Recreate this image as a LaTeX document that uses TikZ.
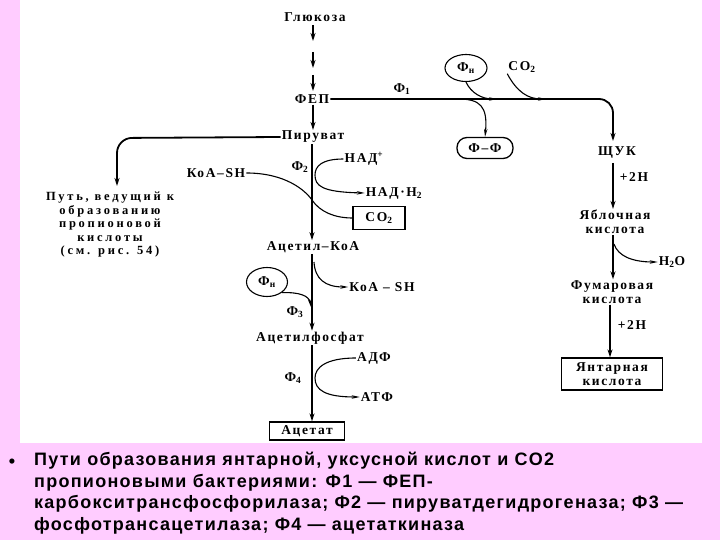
\documentclass[tikz,border=0pt]{standalone}
\usepackage{fontspec}
\setmainfont{Liberation Serif}
\newfontfamily\capfont{Liberation Sans}
\usetikzlibrary{arrows.meta,shapes.geometric}
\definecolor{pinkbg}{RGB}{255,204,255}
\begin{document}
\begin{tikzpicture}[x=1pt,y=-1pt,
  lbl/.style={font=\bfseries\fontsize{13.5}{14}\selectfont\addfontfeature{LetterSpace=12}, inner sep=1pt, align=center},
  smalllbl/.style={font=\bfseries\fontsize{12.5}{13.5}\selectfont\addfontfeature{LetterSpace=22}, inner sep=1pt, align=center},
  mainarr/.style={line width=1.8pt, -{Stealth[length=8pt,width=5pt]}},
  sidearr/.style={line width=1.1pt, -{Stealth[length=8pt,width=3.5pt]}},
  sideline/.style={line width=1.1pt},
  boxed/.style={draw, line width=1.3pt, minimum width=#1},
  oval/.style={draw, ellipse, line width=1.1pt, inner sep=1pt}]
\useasboundingbox (0,0) rectangle (720,540);
\fill[pinkbg] (0,0) rectangle (720,540);
\fill[white] (20,0) rectangle (702,443);

% main column
\node[lbl] (gluc) at (315,17) {Глюкоза};
\node[lbl] (fep) at (312,99) {ФЕП};
\node[lbl] (pyr) at (313,137) {Пируват};
\node[lbl] (acoa) at (313,247) {Ацетил–КоА};
\node[lbl] (acp) at (310,338) {Ацетилфосфат};
\node[lbl, boxed=75pt, minimum height=18pt] (acet) at (307,431) {Ацетат};

\coordinate (g1a) at (313,25); \coordinate (g1b) at (313,41);
\coordinate (g2a) at (313,52); \coordinate (g2b) at (313,68);
\coordinate (g3a) at (313,75); \coordinate (g3b) at (313,91);
\draw[mainarr] (g1a) -- (g1b);
\draw[mainarr] (g2a) -- (g2b);
\draw[mainarr] (g3a) -- (g3b);
\draw[mainarr] (fep.south -| 313,0) -- (pyr.north -| 313,0);

% right branch
\node[lbl] (f1) at (402,89) {Ф\textsubscript{1}};
\node[oval, minimum width=42pt, minimum height=27pt, lbl] (fn1) at (466,68) {Ф\textsubscript{н}};
\node[lbl] (co2a) at (522,67) {CO\textsubscript{2}};
\node[lbl, draw, line width=1.3pt, rounded corners=10pt, minimum width=56pt, minimum height=21pt] (ff) at (485,148) {Ф–Ф};
\node[lbl] (shuk) at (617,153) {ЩУК};
\node[lbl] (yabl) at (615,222) {Яблочная\\кислота};
\node[lbl] (fum) at (612,292) {Фумаровая\\кислота};
\node[lbl, boxed=101pt, minimum height=32pt] (yant) at (612,374) {Янтарная\\кислота};
\node[lbl] (p2h1) at (634,177) {+2H};
\node[lbl] (h2o) at (672,262) {H\textsubscript{2}O};
\node[lbl] (p2h2) at (632,325) {+2H};

\draw[mainarr, rounded corners=14pt] (fep.east) -- (613,99) -- (613,141);
\coordinate (fn1in) at (497,99);
\draw[sidearr] (fn1.south) .. controls (471,93) and (482,99) .. (fn1in);
\coordinate (co2in) at (546,99);
\draw[sidearr] (co2a.south west) .. controls (517,92) and (528,99) .. (co2in);
\coordinate (ffout) at (458,99);
\draw[sidearr] (ffout) .. controls (480,99) and (488,106) .. (ff.north);
\draw[mainarr] (613,163) -- (yabl.north -| 613,0);
\draw[mainarr] (yabl.south -| 613,0) -- (fum.north -| 613,0);
\coordinate (h2ostart) at (614,244);
\draw[sidearr] (h2ostart) .. controls (618,256) and (632,262) .. (h2o.west);
\draw[mainarr] (fum.south -| 610,0) -- (yant.north -| 610,0);

% left branch
\node[smalllbl] (path) at (110,225) {Путь, ведущий к\\образованию\\пропионовой\\кислоты\\(см. рис. 54)};
\draw[mainarr, rounded corners=15pt] (pyr.west) -- (117,138) -- (117,186);

% pyruvate -> acetyl-CoA
\node[lbl] (f2) at (300,167) {Ф\textsubscript{2}};
\node[lbl] (nad) at (364,159) {НАД\textsuperscript{+}};
\node[lbl] (nadh) at (394,193) {НАД·Н\textsubscript{2}};
\node[lbl, boxed=52pt, minimum height=23pt] (co2b) at (379,218) {CO\textsubscript{2}};
\node[lbl] (koash1) at (216,173) {КоА–SH};
\draw[mainarr] (pyr.south -| 312,0) -- (acoa.north -| 312,0);
\draw[sidearr] (nad.west) .. controls (322,159) and (315,166) .. (315,175) .. controls (315,186) and (322,192) .. (nadh.west);
\draw[sideline] (koash1.east) .. controls (285,173) and (305,190) .. (312,200) .. controls (320,212) and (335,218) .. (co2b.west);

% acetyl-CoA -> acetylphosphate
\node[oval, minimum width=41pt, minimum height=29pt, lbl] (fn2) at (267,282) {Ф\textsubscript{н}};
\node[lbl] (koash2) at (382,287) {КоА – SH};
\node[lbl] (f3) at (295,312) {Ф\textsubscript{3}};
\draw[mainarr] (acoa.south -| 312,0) -- (acp.north -| 312,0);
\coordinate (kstart) at (314,262);
\draw[sidearr] (kstart) .. controls (315,279) and (325,287) .. (koash2.west);
\coordinate (fn2in) at (311,307);
\draw[sidearr] (fn2.south east) .. controls (300,292) and (309,296) .. (fn2in);

% acetylphosphate -> acetate
\node[lbl] (adf) at (374,358) {АДФ};
\node[lbl] (atf) at (377,397) {АТФ};
\node[lbl] (f4) at (293,378) {Ф\textsubscript{4}};
\draw[mainarr] (acp.south -| 312,0) -- (acet.north -| 312,0);
\draw[sidearr] (adf.west) .. controls (325,358) and (315,368) .. (315,378) .. controls (315,390) and (325,397) .. (atf.west);

% caption
\node[font=\capfont\bfseries\fontsize{18}{21}\selectfont, inner sep=0pt] (bullet) at (12,463) {•};
\node[font=\capfont\bfseries\fontsize{18}{21.5}\selectfont\addfontfeature{LetterSpace=7}, inner sep=0pt, anchor=north west, align=left] (cap) at (34,452)
  {Пути образования янтарной, уксусной кислот и CO2\\
   пропионовыми бактериями: Ф1 — ФЕП-\\
   карбокситрансфосфорилаза; Ф2 — пируватдегидрогеназа; Ф3 —\\
   фосфотрансацетилаза; Ф4 — ацетаткиназа};
\end{tikzpicture}
\end{document}
